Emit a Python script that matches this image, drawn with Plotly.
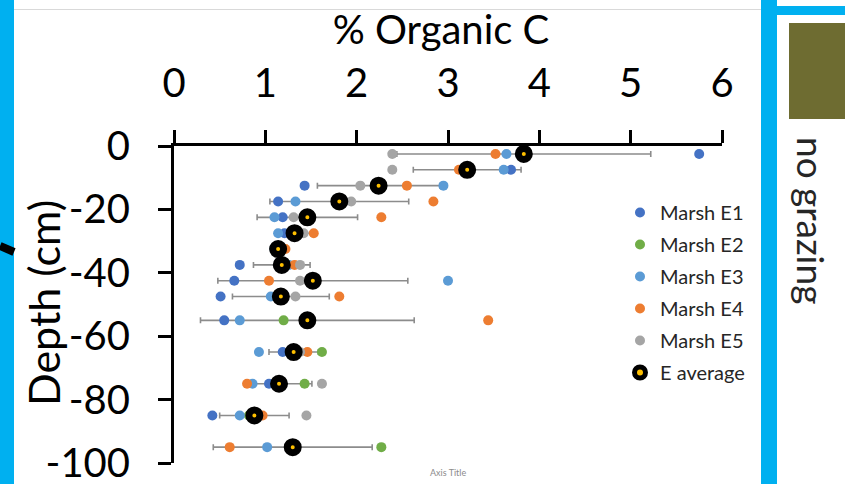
import plotly.graph_objects as go

# Sample depth (cm, negative = below surface)
depth = [-2.5, -7.5, -12.5, -17.5, -22.5, -27.5, -32.5, -37.5, -42.5, -47.5,
         -55, -65, -75, -85, -95]

# % organic carbon per marsh core (None = no sample at that depth)
marsh_e1 = [5.75, 3.69, 1.43, 1.14, 1.19, 1.21, 1.12, 0.72, 0.66, 0.51,
            0.55, 1.19, 1.04, 0.42, None]
marsh_e2 = [None, None, None, None, None, None, None, None, None, None,
            1.20, 1.62, 1.43, 0.82, 2.27]
marsh_e3 = [3.64, 3.61, 2.95, 1.33, 1.10, 1.14, 1.10, 1.26, 3.00, 1.06,
            0.72, 0.93, 0.86, 0.72, 1.02]
marsh_e4 = [3.52, 3.12, 2.55, 2.84, 2.27, 1.53, 1.22, 1.32, 1.04, 1.81,
            3.44, 1.46, 0.80, 0.97, 0.61]
marsh_e5 = [2.39, 2.39, 2.04, 1.94, 1.31, 1.42, 1.12, 1.38, 1.38, 1.33,
            1.44, 1.38, 1.62, 1.45, None]

# Mean across cores and its standard deviation
e_average = [3.83, 3.21, 2.24, 1.81, 1.46, 1.32, 1.14, 1.18, 1.52, 1.17,
             1.46, 1.31, 1.15, 0.88, 1.30]
e_sd = [1.39, 0.59, 0.67, 0.76, 0.55, 0.18, 0.05, 0.31, 1.04, 0.53,
        1.17, 0.27, 0.36, 0.38, 0.87]

x_ticks = [0, 1, 2, 3, 4, 5, 6]
y_ticks = [0, -20, -40, -60, -80, -100]

series = [
    ("Marsh E1", marsh_e1, "#4472C4"),
    ("Marsh E2", marsh_e2, "#70AD47"),
    ("Marsh E3", marsh_e3, "#5B9BD5"),
    ("Marsh E4", marsh_e4, "#ED7D31"),
    ("Marsh E5", marsh_e5, "#A5A5A5"),
]

W, H = 845, 484
FONT = "Lato"


def px(x):
    return x / W


def py(y):
    return 1 - y / H


fig = go.Figure()

# error bars of the average sit underneath every marker
fig.add_trace(go.Scatter(
    x=e_average, y=depth, mode="markers",
    marker=dict(size=1, color="rgba(0,0,0,0)"),
    error_x=dict(type="data", array=e_sd, visible=True,
                 color="#8C8C8C", thickness=1.6, width=3),
    showlegend=False, hoverinfo="skip",
))

for name, vals, color in series:
    fig.add_trace(go.Scatter(
        x=vals, y=depth, mode="markers", name=name,
        marker=dict(size=10, color=color, line=dict(width=0)),
        legendgroup=name,
    ))

fig.add_trace(go.Scatter(
    x=e_average, y=depth, mode="markers", name="E average",
    marker=dict(size=11, color="#FFC000", line=dict(width=7, color="black")),
    legendgroup="avg",
))


def rect(x0, x1, y0, y1, color):
    return dict(type="rect", xref="paper", yref="paper",
                x0=px(x0), x1=px(x1), y0=py(y1), y1=py(y0),
                fillcolor=color, line=dict(width=0))


shapes = [
    # slide decoration around the chart
    rect(0, 14, 0, 484, "#00B0F0"),
    rect(761, 777, 0, 484, "#00B0F0"),
    rect(777, 845, 6, 15, "#00B0F0"),
    rect(789, 845, 23, 119, "#6E6C31"),
    dict(type="line", xref="paper", yref="paper",
         x0=px(14), x1=px(761), y0=py(9.5), y1=py(9.5),
         line=dict(color="#D9D9D9", width=1)),
    dict(type="line", xref="paper", yref="paper",
         x0=px(0), x1=px(14), y0=py(246), y1=py(252),
         line=dict(color="black", width=8)),
]

annotations = [
    # vertical axis title
    dict(text="Depth (cm)", x=px(43), y=py(303), xref="paper", yref="paper",
         xanchor="center", yanchor="middle",
         showarrow=False, textangle=-90,
         font=dict(family=FONT, size=43, color="black")),
    dict(text="no grazing", x=px(812), y=py(220), xref="paper", yref="paper",
         xanchor="center", yanchor="middle",
         showarrow=False, textangle=90,
         font=dict(family=FONT, size=37, color="#262626")),
    dict(text="Axis Title", x=px(448), y=py(472), xref="paper", yref="paper",
         xanchor="center", yanchor="middle",
         showarrow=False, font=dict(family=FONT, size=9, color="#8C8C8C")),
]

fig.update_layout(
    width=W, height=H,
    margin=dict(l=0, r=0, t=0, b=0, autoexpand=False),
    paper_bgcolor="white", plot_bgcolor="white",
    font=dict(family=FONT, color="black"),
    title=dict(text="% Organic C", x=px(441), xanchor="center",
               y=py(30), yanchor="middle",
               font=dict(family=FONT, size=40, color="black")),
    xaxis=dict(
        domain=[px(174), px(722)], range=[0, 6], side="top",
        tickvals=x_ticks, ticktext=[str(v) for v in x_ticks],
        ticks="outside", ticklen=13, tickwidth=3, tickcolor="black",
        showline=True, linewidth=3, linecolor="black",
        showgrid=False, zeroline=False, automargin=False,
        tickfont=dict(family=FONT, size=40, color="black"),
        ticklabelstandoff=17,
    ),
    yaxis=dict(
        domain=[py(463), py(146)], range=[-100, 0],
        tickvals=y_ticks, ticktext=[str(v) for v in y_ticks],
        ticks="outside", ticklen=13, tickwidth=3, tickcolor="black",
        showline=True, linewidth=3, linecolor="black",
        showgrid=False, zeroline=False, automargin=False,
        ticklabeloverflow="allow",
        tickfont=dict(family=FONT, size=40, color="black"),
        ticklabelstandoff=20,
    ),
    legend=dict(
        x=px(620), xanchor="left", y=py(193), yanchor="top",
        font=dict(family=FONT, size=20, color="#262626"),
        bgcolor="rgba(0,0,0,0)", tracegroupgap=3, itemsizing="trace",
    ),
    shapes=shapes,
    annotations=annotations,
)

fig.write_html("out.html")
